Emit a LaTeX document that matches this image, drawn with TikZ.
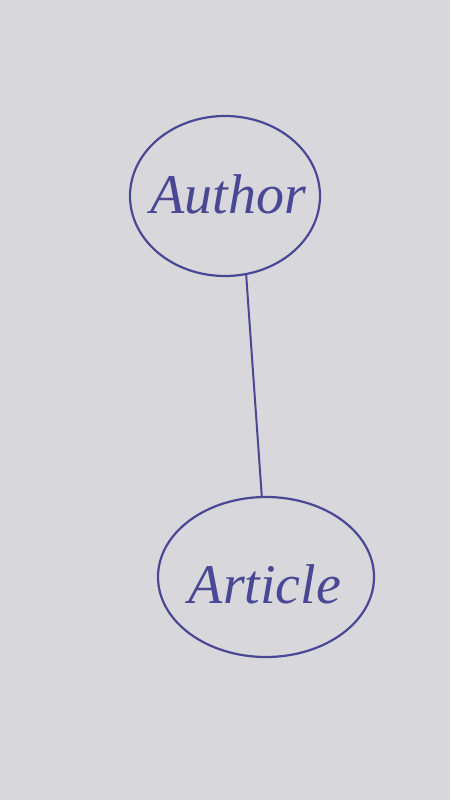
\documentclass[tikz,border=0pt]{standalone}
\usepackage{fontspec}
\setmainfont{Liberation Serif}
\usetikzlibrary{shapes.geometric}
\definecolor{paper}{HTML}{D8D8DC}
\definecolor{ink}{HTML}{4A4894}
\tikzset{
  bubble/.style={draw=ink, line width=2.2pt, ellipse, inner sep=0pt},
  word/.style={text=ink, inner sep=0pt, font=\itshape\fontsize{56}{60}\selectfont},
  link/.style={draw=ink, line width=2pt}
}
\begin{document}
\begin{tikzpicture}[x=1pt,y=-1pt]
\fill[paper] (0,0) rectangle (450,800);
\useasboundingbox (0,0) rectangle (450,800);
\node[bubble, minimum width=190pt, minimum height=160pt] (author) at (225,196) {};
\node[word] (authortext) at (228,194) {Author};
\node[bubble, minimum width=216pt, minimum height=160pt] (article) at (266,577) {};
\node[word] (articletext) at (265,584) {Article};
\draw[link] (author.-75) -- (article.93);
\end{tikzpicture}
\end{document}
